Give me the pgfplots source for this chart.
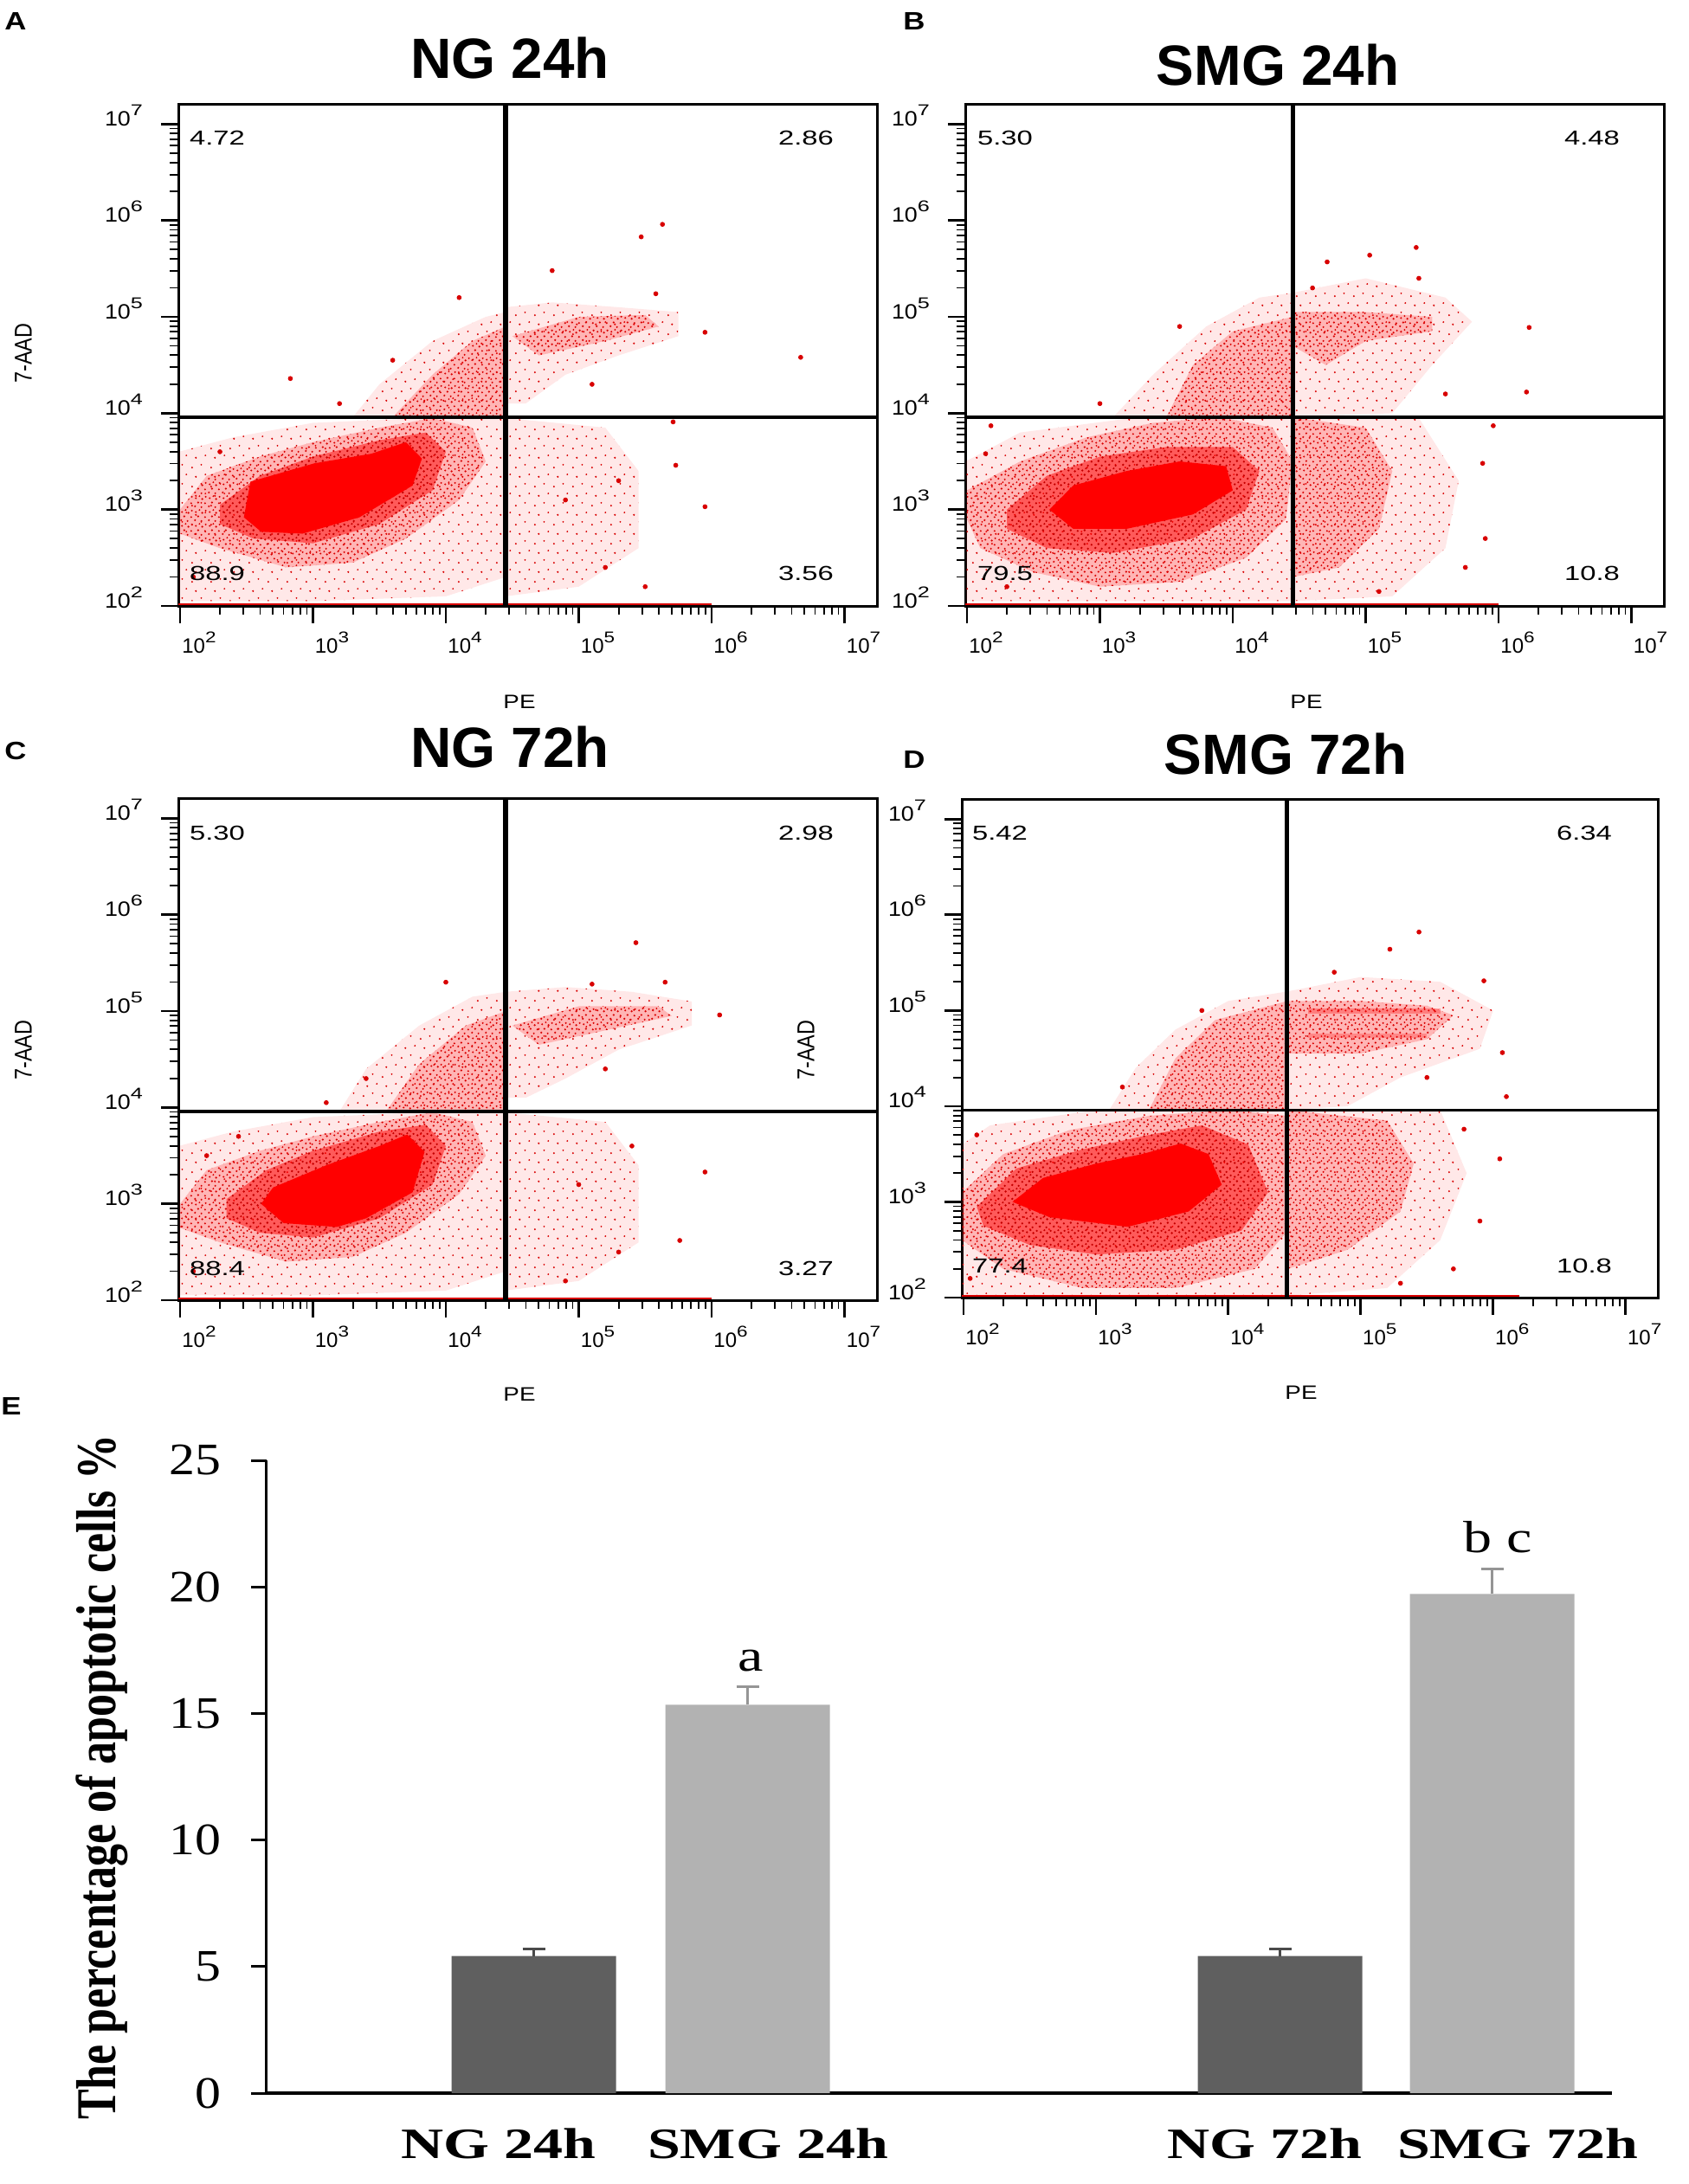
\documentclass[border=0pt]{standalone}
\usepackage{graphicx}
\usepackage{pgfplots}
\pgfplotsset{compat=1.18}
\usetikzlibrary{patterns.meta}
\usepackage{fontspec}
\setmainfont{Liberation Serif}
\newfontfamily\arial{Liberation Sans}
\definecolor{bardark}{HTML}{5F5F5F}
\definecolor{barlight}{HTML}{B2B2B2}
\definecolor{errdark}{HTML}{4A4A4A}
\definecolor{errlight}{HTML}{959595}
\definecolor{dotred}{HTML}{D80000}
\tikzdeclarepattern{
  name=speck, type=uncolored,
  bounding box={(0pt,0pt) and (8pt,8pt)}, tile size={(8pt,8pt)},
  code={
    \fill (0.7pt,1.1pt) circle (0.65pt);
    \fill (4.6pt,0.6pt) circle (0.6pt);
    \fill (2.6pt,3.4pt) circle (0.65pt);
    \fill (6.8pt,3.0pt) circle (0.6pt);
    \fill (1.2pt,6.1pt) circle (0.6pt);
    \fill (5.1pt,5.6pt) circle (0.65pt);
    \fill (3.4pt,7.3pt) circle (0.55pt);
    \fill (7.2pt,6.9pt) circle (0.6pt);
  }}
\tikzdeclarepattern{
  name=sparse, type=uncolored,
  bounding box={(0pt,0pt) and (11pt,11pt)}, tile size={(11pt,11pt)},
  code={
    \fill (1.0pt,1.5pt) circle (0.6pt);
    \fill (6.5pt,3.2pt) circle (0.55pt);
    \fill (3.3pt,7.4pt) circle (0.6pt);
    \fill (9.0pt,8.8pt) circle (0.55pt);
  }}
\tikzset{
  sp/.style={pattern={sparse}, pattern color=dotred, draw=none, preaction={fill=red, fill opacity=0.09}},
  md/.style={pattern={speck}, pattern color=dotred, draw=none, preaction={fill=red, fill opacity=0.22}},
  dn/.style={pattern={speck}, pattern color=red!75!black, draw=none, preaction={fill=red, fill opacity=0.5}},
  cr/.style={fill=red, draw=none},
  pts/.style={only marks, mark=*, mark size=1.2pt, dotred, mark options={draw=none}},
}
\newcommand{\sx}[1]{\scalebox{1.12}[1]{#1}}
\newcommand{\tl}[1]{10\raisebox{0.5em}{\scalebox{1.25}[1]{\fontsize{9}{9}\selectfont #1}}}
\pgfplotsset{
  cyto/.style={
    scale only axis, width=403.5pt, height=290pt,
    xmin=1.987, xmax=7.244, ymin=2, ymax=7.21,
    axis line style={line width=1.5pt},
    xtick={2,3,4,5,6,7}, ytick={2,3,4,5,6,7},
    xticklabels={\tl{2},\tl{3},\tl{4},\tl{5},\tl{6},\tl{7}},
    yticklabels={\sx{\tl{2}},\sx{\tl{3}},\sx{\tl{4}},\sx{\tl{5}},\sx{\tl{6}},\sx{\tl{7}}},
    minor xtick={2.301,2.477,2.602,2.699,2.778,2.845,2.903,2.954,3.301,3.477,3.602,3.699,3.778,3.845,3.903,3.954,4.301,4.477,4.602,4.699,4.778,4.845,4.903,4.954,5.301,5.477,5.602,5.699,5.778,5.845,5.903,5.954,6.301,6.477,6.602,6.699,6.778,6.845,6.903,6.954},
    minor ytick={2.301,2.477,2.602,2.699,2.778,2.845,2.903,2.954,3.301,3.477,3.602,3.699,3.778,3.845,3.903,3.954,4.301,4.477,4.602,4.699,4.778,4.845,4.903,4.954,5.301,5.477,5.602,5.699,5.778,5.845,5.903,5.954,6.301,6.477,6.602,6.699,6.778,6.845,6.903,6.954},
    tick align=outside, tick pos=left,
    major tick length=10pt, minor tick length=5pt,
    major tick style={line width=1.4pt, black},
    minor tick style={line width=0.9pt, black},
    ticklabel style={font=\arial\fontsize{12}{12}\selectfont},
    xticklabel style={anchor=base, xshift=11pt, yshift=-17pt},
    yticklabel style={anchor=base east, xshift=-7pt, yshift=-1pt},
  },
  qline/.style={black, line width=2.6pt},
  hline/.style={black, line width=1.8pt},
  bline/.style={red!85!black, line width=1pt},
}
\begin{document}
\begin{tikzpicture}
\useasboundingbox (0,0) rectangle (975pt,-1261.5pt);

% ---------------- Panel A : NG 24h ----------------
\begin{axis}[cyto, at={(103pt,-60pt)}, anchor=north west]
\addplot[sp] coordinates {(1.99,2.05)(3.0,2.05)(4.0,2.1)(4.45,2.3)(4.45,3.96)(4.0,3.96)(3.0,3.9)(2.4,3.75)(1.99,3.6)} -- cycle;
\addplot[sp] coordinates {(4.45,2.1)(5.0,2.2)(5.45,2.6)(5.45,3.4)(5.2,3.85)(4.45,3.95)} -- cycle;
\addplot[sp] coordinates {(3.3,3.96)(3.5,4.3)(3.9,4.75)(4.3,5.0)(4.45,5.05)(4.45,3.96)} -- cycle;
\addplot[sp] coordinates {(4.45,4.1)(4.45,5.1)(4.8,5.15)(5.3,5.1)(5.75,5.05)(5.75,4.8)(5.3,4.6)(4.9,4.4)(4.6,4.1)} -- cycle;
\addplot[md] coordinates {(2.0,3.0)(2.2,3.35)(2.6,3.55)(3.0,3.7)(3.5,3.85)(3.9,3.95)(4.2,3.85)(4.3,3.5)(4.1,3.1)(3.7,2.7)(3.3,2.45)(2.8,2.4)(2.3,2.6)(2.0,2.75)} -- cycle;
\addplot[md] coordinates {(3.6,3.96)(3.9,4.4)(4.2,4.75)(4.45,4.9)(4.45,3.96)} -- cycle;
\addplot[md] coordinates {(4.5,4.8)(5.0,5.0)(5.5,5.02)(5.6,4.9)(5.2,4.75)(4.7,4.6)} -- cycle;
\addplot[dn] coordinates {(2.3,3.05)(2.6,3.35)(3.0,3.55)(3.5,3.72)(3.85,3.8)(4.0,3.6)(3.9,3.2)(3.5,2.85)(3.0,2.65)(2.55,2.7)(2.3,2.85)} -- cycle;
\addplot[cr] coordinates {(2.48,2.92)(2.53,3.29)(3.01,3.48)(3.44,3.58)(3.70,3.70)(3.82,3.53)(3.75,3.25)(3.35,2.92)(2.92,2.75)(2.61,2.77)} -- cycle;
\addplot[pts] coordinates {(5.63,5.96)(5.47,5.83)(6.67,4.58)(2.83,4.36)(5.95,3.03)(5.73,3.46)(4.80,5.48)(5.58,5.24)(5.95,4.84)(5.71,3.91)(5.2,2.4)(4.9,3.1)(5.3,3.3)(3.6,4.55)(4.1,5.2)(5.1,4.3)(2.1,2.3)(2.3,3.6)(5.5,2.2)(3.2,4.1)};
\addplot[bline] coordinates {(1.99,2.02)(6.0,2.02)};
\addplot[qline] coordinates {(4.45,2)(4.45,7.21)};
\addplot[hline] coordinates {(1.987,3.96)(7.244,3.96)};
\end{axis}

% ---------------- Panel B : SMG 24h ----------------
\begin{axis}[cyto, at={(557.5pt,-60pt)}, anchor=north west]
\addplot[sp] coordinates {(1.99,2.05)(4.45,2.05)(4.45,3.96)(3.3,3.96)(2.4,3.8)(1.99,3.5)} -- cycle;
\addplot[sp] coordinates {(4.45,2.05)(5.2,2.1)(5.6,2.6)(5.7,3.3)(5.4,3.95)(4.45,3.96)} -- cycle;
\addplot[sp] coordinates {(3.1,3.96)(3.4,4.4)(3.8,4.9)(4.2,5.2)(4.45,5.25)(4.45,3.96)} -- cycle;
\addplot[sp] coordinates {(4.45,3.96)(4.45,5.25)(5.0,5.4)(5.6,5.2)(5.8,4.95)(5.5,4.5)(5.2,4.0)} -- cycle;
\addplot[md] coordinates {(2.0,3.2)(2.4,3.5)(2.9,3.75)(3.4,3.9)(3.9,3.96)(4.3,3.85)(4.45,3.5)(4.4,2.9)(4.1,2.5)(3.6,2.25)(3.0,2.2)(2.5,2.35)(2.1,2.6)(2.0,2.9)} -- cycle;
\addplot[md] coordinates {(4.45,2.3)(4.8,2.4)(5.1,2.8)(5.2,3.4)(5.0,3.85)(4.45,3.96)} -- cycle;
\addplot[md] coordinates {(3.5,3.96)(3.7,4.5)(4.0,4.85)(4.45,5.0)(4.45,3.96)} -- cycle;
\addplot[md] coordinates {(4.45,4.7)(4.45,5.05)(5.0,5.05)(5.5,5.0)(5.5,4.85)(5.0,4.75)(4.7,4.5)} -- cycle;
\addplot[dn] coordinates {(2.3,3.0)(2.6,3.35)(3.0,3.55)(3.5,3.65)(4.0,3.65)(4.2,3.4)(4.1,3.0)(3.7,2.7)(3.1,2.55)(2.6,2.6)(2.3,2.8)} -- cycle;
\addplot[cr] coordinates {(2.62,3.0)(2.8,3.25)(3.2,3.4)(3.6,3.5)(3.95,3.45)(4.0,3.2)(3.7,2.95)(3.2,2.8)(2.8,2.8)} -- cycle;
\addplot[pts] coordinates {(5.38,5.72)(5.03,5.64)(4.71,5.57)(6.23,4.89)(6.21,4.22)(5.88,3.48)(5.96,3.87)(2.18,3.87)(2.14,3.58)(5.9,2.7)(5.75,2.4)(3.0,4.1)(3.6,4.9)(5.6,4.2)(5.4,5.4)(4.6,5.3)(2.3,2.2)(5.1,2.15)};
\addplot[bline] coordinates {(1.99,2.02)(6.0,2.02)};
\addplot[qline] coordinates {(4.45,2)(4.45,7.21)};
\addplot[hline] coordinates {(1.987,3.96)(7.244,3.96)};
\end{axis}

% ---------------- Panel C : NG 72h ----------------
\begin{axis}[cyto, at={(103pt,-461pt)}, anchor=north west]
\addplot[sp] coordinates {(1.99,2.05)(3.0,2.05)(4.0,2.1)(4.45,2.3)(4.45,3.96)(4.0,3.96)(3.0,3.9)(2.4,3.75)(1.99,3.6)} -- cycle;
\addplot[sp] coordinates {(4.45,2.1)(5.0,2.2)(5.45,2.6)(5.45,3.4)(5.2,3.85)(4.45,3.95)} -- cycle;
\addplot[sp] coordinates {(3.2,3.96)(3.4,4.4)(3.8,4.85)(4.2,5.15)(4.45,5.2)(4.45,3.96)} -- cycle;
\addplot[sp] coordinates {(4.45,4.1)(4.45,5.2)(4.9,5.25)(5.4,5.2)(5.85,5.1)(5.85,4.85)(5.3,4.6)(4.9,4.3)(4.6,4.1)} -- cycle;
\addplot[md] coordinates {(2.0,3.0)(2.2,3.35)(2.6,3.55)(3.0,3.7)(3.5,3.85)(3.9,3.95)(4.2,3.85)(4.3,3.5)(4.1,3.1)(3.7,2.7)(3.3,2.45)(2.8,2.4)(2.3,2.6)(2.0,2.75)} -- cycle;
\addplot[md] coordinates {(3.55,3.96)(3.8,4.45)(4.15,4.85)(4.45,5.0)(4.45,3.96)} -- cycle;
\addplot[md] coordinates {(4.5,4.85)(5.0,5.05)(5.6,5.05)(5.7,4.95)(5.2,4.8)(4.7,4.65)} -- cycle;
\addplot[dn] coordinates {(2.35,3.05)(2.65,3.35)(3.0,3.55)(3.5,3.75)(3.85,3.82)(4.0,3.6)(3.9,3.2)(3.5,2.85)(3.0,2.65)(2.6,2.7)(2.35,2.85)} -- cycle;
\addplot[cr] coordinates {(2.61,3.0)(2.70,3.17)(3.1,3.4)(3.5,3.6)(3.71,3.72)(3.84,3.54)(3.75,3.12)(3.4,2.85)(3.18,2.76)(2.78,2.8)} -- cycle;
\addplot[pts] coordinates {(5.43,5.71)(5.65,5.30)(6.06,4.96)(5.95,3.33)(5.76,2.62)(2.44,3.70)(5.10,5.28)(5.3,2.5)(5.0,3.2)(5.4,3.6)(3.4,4.3)(4.0,5.3)(5.2,4.4)(2.1,2.3)(2.2,3.5)(4.9,2.2)(3.1,4.05)};
\addplot[bline] coordinates {(1.99,2.02)(6.0,2.02)};
\addplot[qline] coordinates {(4.45,2)(4.45,7.21)};
\addplot[hline] coordinates {(1.987,3.96)(7.244,3.96)};
\end{axis}

% ---------------- Panel D : SMG 72h ----------------
\begin{axis}[cyto, at={(555.5pt,-461.5pt)}, anchor=north west, width=402pt, height=288pt]
\addplot[sp] coordinates {(1.99,2.02)(4.45,2.02)(4.45,3.96)(3.0,3.96)(2.2,3.8)(1.99,3.6)} -- cycle;
\addplot[sp] coordinates {(4.45,2.02)(5.2,2.1)(5.6,2.6)(5.8,3.3)(5.6,3.96)(4.45,3.96)} -- cycle;
\addplot[sp] coordinates {(3.1,3.96)(3.3,4.4)(3.6,4.8)(4.0,5.1)(4.45,5.2)(4.45,3.96)} -- cycle;
\addplot[sp] coordinates {(4.45,3.96)(4.45,5.2)(5.0,5.35)(5.6,5.3)(6.0,5.0)(5.9,4.6)(5.3,4.3)(4.9,4.0)} -- cycle;
\addplot[md] coordinates {(1.99,3.1)(2.3,3.5)(2.8,3.75)(3.4,3.9)(4.0,3.96)(4.45,3.9)(4.45,2.7)(4.2,2.3)(3.6,2.1)(2.9,2.1)(2.3,2.3)(1.99,2.6)} -- cycle;
\addplot[md] coordinates {(4.45,2.3)(4.9,2.5)(5.3,2.9)(5.4,3.4)(5.2,3.85)(4.45,3.96)} -- cycle;
\addplot[md] coordinates {(3.4,3.96)(3.6,4.5)(3.9,4.9)(4.45,5.1)(4.45,3.96)} -- cycle;
\addplot[md] coordinates {(4.45,4.55)(4.45,5.1)(5.0,5.1)(5.5,5.05)(5.7,4.95)(5.5,4.7)(5.0,4.55)} -- cycle;
\addplot[red, opacity=0.3, line width=3pt] coordinates {(4.6,4.99)(5.6,4.99)};
\addplot[red, opacity=0.25, line width=2.5pt] coordinates {(4.6,4.74)(5.5,4.74)};
\addplot[dn] coordinates {(2.1,2.95)(2.4,3.35)(2.9,3.55)(3.4,3.7)(3.8,3.8)(4.15,3.6)(4.3,3.1)(4.1,2.7)(3.6,2.5)(3.0,2.45)(2.5,2.55)(2.15,2.75)} -- cycle;
\addplot[cr] coordinates {(2.37,3.0)(2.6,3.25)(3.0,3.4)(3.35,3.5)(3.64,3.61)(3.85,3.5)(3.95,3.18)(3.7,2.9)(3.24,2.74)(2.65,2.84)} -- cycle;
\addplot[pts] coordinates {(5.44,5.82)(5.22,5.64)(5.93,5.31)(6.07,4.56)(6.05,3.45)(5.78,3.76)(5.9,2.8)(5.7,2.3)(3.2,4.2)(3.8,5.0)(5.5,4.3)(4.8,5.4)(2.05,2.2)(2.1,3.7)(5.3,2.15)(6.1,4.1)};
\addplot[bline] coordinates {(1.99,2.02)(6.2,2.02)};
\addplot[qline] coordinates {(4.44,2)(4.44,7.21)};
\addplot[hline] coordinates {(1.987,3.96)(7.244,3.96)};
\end{axis}

% ---------------- Panel E : bar chart ----------------
\begin{axis}[at={(154pt,-1209pt)}, anchor=south west, scale only axis,
  width=777pt, height=365.5pt,
  xmin=308, xmax=1862, ymin=0, ymax=25, enlargelimits=false,
  axis x line=bottom, axis y line=left,
  x axis line style={-, line width=2pt},
  y axis line style={-, line width=1.5pt},
  xtick=\empty, ytick={0,5,10,15,20,25},
  yticklabels={\scalebox{1.15}[1]{0},\scalebox{1.15}[1]{5},\scalebox{1.15}[1]{10},\scalebox{1.15}[1]{15},\scalebox{1.15}[1]{20},\scalebox{1.15}[1]{25}},
  tick align=outside, major tick length=9pt,
  major tick style={line width=1.5pt, black},
  yticklabel style={font=\fontsize{26}{28}\selectfont, anchor=east, xshift=-14pt},
  clip=false]
\addplot[ybar, bar width=95pt, bar shift=0pt, fill=bardark, draw=none,
  error bars/.cd, y dir=plus, y explicit,
  error bar style={line width=1.5pt, errdark},
  error mark options={rotate=90, line width=1.5pt, mark size=6.5pt, errdark}]
  coordinates {(616.5,5.42) +- (0,0.28) (1478.5,5.42) +- (0,0.28)};
\addplot[ybar, bar width=95pt, bar shift=0pt, fill=barlight, draw=none,
  error bars/.cd, y dir=plus, y explicit,
  error bar style={line width=1.5pt, errlight},
  error mark options={rotate=90, line width=1.5pt, mark size=6.5pt, errlight}]
  coordinates {(863.5,15.34) +- (0,0.73) (1723.5,19.72) +- (0,1.0)};
\end{axis}

% ---------------- texts (pixel coordinates) ----------------
\begin{scope}[x=0.5pt, y=-0.5pt]
\begin{scope}[every node/.style={inner sep=0pt, font=\arial\bfseries\fontsize{32.8}{34}\selectfont, anchor=base}]
\node at (589,90) {NG 24h};
\node at (1476,98) {SMG 24h};
\node at (589,886) {NG 72h};
\node at (1485,894) {SMG 72h};
\end{scope}
\begin{scope}[every node/.style={inner sep=0pt, font=\arial\bfseries\fontsize{14.5}{15}\selectfont, anchor=base}]
\node at (18,34) {\scalebox{1.2}[1]{A}};
\node at (1056,34) {\scalebox{1.2}[1]{B}};
\node at (18,877) {\scalebox{1.2}[1]{C}};
\node at (1056,887) {\scalebox{1.2}[1]{D}};
\node at (13,1634) {\scalebox{1.2}[1]{E}};
\end{scope}
\begin{scope}[every node/.style={inner sep=0pt, font=\arial\fontsize{11.7}{12}\selectfont, anchor=center}]
\node at (251,159) {\scalebox{1.4}[1]{4.72}};
\node at (931,159) {\scalebox{1.4}[1]{2.86}};
\node at (251,662) {\scalebox{1.4}[1]{88.9}};
\node at (931,662) {\scalebox{1.4}[1]{3.56}};
\node at (1161,159) {\scalebox{1.4}[1]{5.30}};
\node at (1839,159) {\scalebox{1.4}[1]{4.48}};
\node at (1161,662) {\scalebox{1.4}[1]{79.5}};
\node at (1839,662) {\scalebox{1.4}[1]{10.8}};
\node at (251,962) {\scalebox{1.4}[1]{5.30}};
\node at (931,962) {\scalebox{1.4}[1]{2.98}};
\node at (251,1465) {\scalebox{1.4}[1]{88.4}};
\node at (931,1465) {\scalebox{1.4}[1]{3.27}};
\node at (1155,962) {\scalebox{1.4}[1]{5.42}};
\node at (1830,962) {\scalebox{1.4}[1]{6.34}};
\node at (1155,1462) {\scalebox{1.4}[1]{77.4}};
\node at (1830,1462) {\scalebox{1.4}[1]{10.8}};
\end{scope}
\begin{scope}[every node/.style={inner sep=0pt, font=\arial\fontsize{11.2}{12}\selectfont, anchor=base}]
\node at (600,818) {\scalebox{1.24}[1]{PE}};
\node at (1509,818) {\scalebox{1.24}[1]{PE}};
\node at (600,1618) {\scalebox{1.24}[1]{PE}};
\node at (1503,1616) {\scalebox{1.24}[1]{PE}};
\end{scope}
\begin{scope}[every node/.style={inner sep=0pt, font=\arial\fontsize{11.7}{12}\selectfont, anchor=center, rotate=90}]
\node at (27,408) {\scalebox{1}[1.2]{7-AAD}};
\node at (27,1213) {\scalebox{1}[1.2]{7-AAD}};
\node at (931,1213) {\scalebox{1}[1.2]{7-AAD}};
\end{scope}
% bar chart texts
\node[inner sep=0pt, anchor=base, font=\fontsize{26}{28}\selectfont] at (867,1930) {\scalebox{1.27}[1]{a}};
\node[inner sep=0pt, anchor=base, font=\fontsize{26}{28}\selectfont] at (1730,1793) {\scalebox{1.27}[1]{b c}};
\begin{scope}[every node/.style={inner sep=0pt, font=\bfseries\fontsize{25}{27}\selectfont, anchor=base}]
\node at (575.5,2493) {\scalebox{1.36}[1]{NG 24h}};
\node at (887,2493) {\scalebox{1.36}[1]{SMG 24h}};
\node at (1461,2493) {\scalebox{1.36}[1]{NG 72h}};
\node at (1753,2493) {\scalebox{1.36}[1]{SMG 72h}};
\end{scope}
\node[inner sep=0pt, rotate=90, font=\bfseries\fontsize{26}{28}\selectfont] at (118,2053) {\scalebox{1}[1.25]{The percentage of apoptotic cells \%}};
\end{scope}
\end{tikzpicture}
\end{document}
